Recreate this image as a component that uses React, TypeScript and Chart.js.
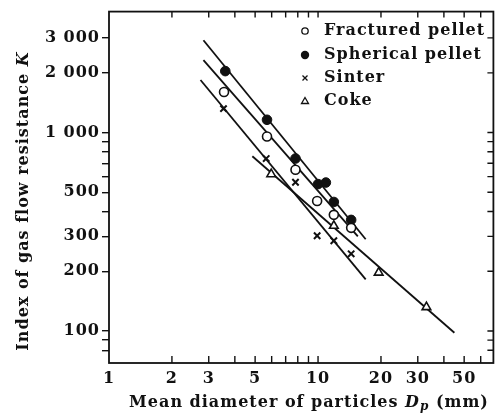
import React, { useEffect, useRef } from 'react';
import { Chart, registerables } from 'chart.js';

Chart.register(...registerables);

// ---- data ----
const fracturedX = [3.55, 5.7, 7.8, 9.9, 11.9, 14.4];
const fracturedY = [1600, 955, 650, 452, 385, 331];
const sphericalX = [3.6, 5.7, 7.8, 10.0, 10.9, 11.9, 14.4];
const sphericalY = [2040, 1160, 740, 550, 560, 447, 363];
const sinterX = [3.53, 5.65, 7.8, 9.9, 11.9, 14.4];
const sinterY = [1320, 740, 562, 302, 285, 245];
const cokeX = [5.97, 11.9, 19.5, 33];
const cokeY = [617, 339, 197, 132];

// fitted lines (end points)
const fracturedLineX = [2.83, 15.5];
const fracturedLineY = [2320, 300];
const sphericalLineX = [2.83, 16.9];
const sphericalLineY = [2920, 290];
const sinterLineX = [2.74, 16.9];
const sinterLineY = [1840, 182];
const cokeLineX = [4.85, 44.9];
const cokeLineY = [760, 98];

const seriesNames = ['Fractured pellet', 'Spherical pellet', 'Sinter', 'Coke'];

const xTickValues = [1, 2, 3, 4, 5, 6, 7, 8, 9, 10, 20, 30, 40, 50, 60];
const xTickLabelValues = [1, 2, 3, 5, 10, 20, 30, 50];
const xTickLabels = ['1', '2', '3', '5', '10', '20', '30', '50'];
const yTickValues = [80, 90, 100, 200, 300, 400, 500, 600, 700, 800, 900, 1000, 2000, 3000];
const yTickLabelValues = [100, 200, 300, 500, 1000, 2000, 3000];
const yTickLabels = ['100', '200', '300', '500', '1 000', '2 000', '3 000'];

const xTitleParts = [
  { t: 'Mean diameter of particles ', s: 'n' },
  { t: 'D', s: 'i' },
  { t: 'p', s: 'sub' },
  { t: ' (mm)', s: 'n' },
];
const yTitleParts = [
  { t: 'Index of gas flow resistance ', s: 'n' },
  { t: 'K', s: 'i' },
];

const FONT = '"DejaVu Serif", serif';
const INK = '#111';
const SPACING = '1px';

const pts = (xs: number[], ys: number[]) => xs.map((x, i) => ({ x, y: ys[i] }));

function fontFor(style: string, size: number) {
  if (style === 'i') return `italic bold ${size}px ${FONT}`;
  if (style === 'sub') return `italic bold ${Math.round(size * 0.72)}px ${FONT}`;
  return `bold ${size}px ${FONT}`;
}

function drawParts(ctx: CanvasRenderingContext2D, parts: { t: string; s: string }[], cx: number, cy: number, size: number) {
  let total = 0;
  const widths = parts.map((p) => {
    ctx.font = fontFor(p.s, size);
    const w = ctx.measureText(p.t).width;
    total += w;
    return w;
  });
  let x = cx - total / 2;
  parts.forEach((p, i) => {
    ctx.font = fontFor(p.s, size);
    ctx.fillText(p.t, x, p.s === 'sub' ? cy + 4 : cy);
    x += widths[i];
  });
}

const decorPlugin = {
  id: 'decor',
  beforeDraw(chart: any) {
    (chart.ctx as any).letterSpacing = SPACING;
  },
  afterDraw(chart: any) {
    const ctx: CanvasRenderingContext2D = chart.ctx;
    const { left, right, top, bottom } = chart.chartArea;
    const xs = chart.scales.x;
    const ys = chart.scales.y;
    ctx.save();
    (ctx as any).letterSpacing = SPACING;
    ctx.strokeStyle = INK;
    ctx.lineWidth = 1.8;
    ctx.strokeRect(left, top, right - left, bottom - top);
    ctx.lineWidth = 1.4;
    ctx.beginPath();
    xTickValues.forEach((v) => {
      const px = xs.getPixelForValue(v);
      if (px <= left + 1 || px >= right - 1) return;
      ctx.moveTo(px, bottom);
      ctx.lineTo(px, bottom - 7);
      ctx.moveTo(px, top);
      ctx.lineTo(px, top + 6);
    });
    yTickValues.forEach((v) => {
      const py = ys.getPixelForValue(v);
      if (py <= top + 1 || py >= bottom - 1) return;
      ctx.moveTo(right, py);
      ctx.lineTo(right - 6, py);
    });
    ctx.stroke();

    // legend
    const lx = 305;
    const tx = 324;
    const rows = [31, 55, 78, 101];
    ctx.fillStyle = INK;
    ctx.textBaseline = 'middle';
    ctx.textAlign = 'left';
    ctx.font = `bold 16px ${FONT}`;
    seriesNames.forEach((n, i) => ctx.fillText(n, tx, rows[i]));
    ctx.lineWidth = 1.3;
    // open circle
    ctx.beginPath();
    ctx.arc(lx, rows[0], 3.2, 0, Math.PI * 2);
    ctx.stroke();
    // filled circle
    ctx.beginPath();
    ctx.arc(lx, rows[1], 4.2, 0, Math.PI * 2);
    ctx.fill();
    // cross
    ctx.beginPath();
    ctx.moveTo(lx - 2.5, rows[2] - 2.5);
    ctx.lineTo(lx + 2.5, rows[2] + 2.5);
    ctx.moveTo(lx + 2.5, rows[2] - 2.5);
    ctx.lineTo(lx - 2.5, rows[2] + 2.5);
    ctx.stroke();
    // triangle
    ctx.beginPath();
    ctx.moveTo(lx, rows[3] - 3.5);
    ctx.lineTo(lx + 3.5, rows[3] + 2.5);
    ctx.lineTo(lx - 3.5, rows[3] + 2.5);
    ctx.closePath();
    ctx.stroke();

    // axis titles
    ctx.textAlign = 'left';
    ctx.textBaseline = 'middle';
    drawParts(ctx, xTitleParts, 309, 403, 16);
    ctx.save();
    ctx.translate(24, 201);
    ctx.rotate(-Math.PI / 2);
    drawParts(ctx, yTitleParts, 0, 0, 16);
    ctx.restore();
    ctx.restore();
  },
};

export default function App() {
  const ref = useRef<HTMLCanvasElement | null>(null);
  useEffect(() => {
    document.body.style.margin = '0';
    const canvas = ref.current!;
    const lineDs = (label: string, xs: number[], ys: number[]) => ({
      type: 'scatter' as const,
      label,
      data: pts(xs, ys),
      showLine: true,
      borderColor: INK,
      borderWidth: 1.8,
      pointRadius: 0,
      fill: false,
    });
    const chart = new Chart(canvas, {
      type: 'scatter',
      data: {
        datasets: [
          {
            label: seriesNames[0],
            data: pts(fracturedX, fracturedY),
            pointStyle: 'circle',
            pointRadius: 4.5,
            pointBorderWidth: 1.6,
            pointBackgroundColor: '#fff',
            pointBorderColor: INK,
          },
          {
            label: seriesNames[1],
            data: pts(sphericalX, sphericalY),
            pointStyle: 'circle',
            pointRadius: 4.8,
            pointBorderWidth: 1,
            pointBackgroundColor: INK,
            pointBorderColor: INK,
          },
          {
            label: seriesNames[2],
            data: pts(sinterX, sinterY),
            pointStyle: 'crossRot',
            pointRadius: 4.5,
            pointBorderWidth: 2,
            pointBorderColor: INK,
          },
          {
            label: seriesNames[3],
            data: pts(cokeX, cokeY),
            pointStyle: 'triangle',
            pointRadius: 5,
            pointBorderWidth: 1.6,
            pointBackgroundColor: '#fff',
            pointBorderColor: INK,
          },
          lineDs('fractured fit', fracturedLineX, fracturedLineY),
          lineDs('spherical fit', sphericalLineX, sphericalLineY),
          lineDs('sinter fit', sinterLineX, sinterLineY),
          lineDs('coke fit', cokeLineX, cokeLineY),
        ] as any,
      },
      options: {
        responsive: false,
        animation: false,
        devicePixelRatio: 1,
        layout: { padding: { left: 0, right: 4, top: 9, bottom: 0 } },
        plugins: { legend: { display: false }, tooltip: { enabled: false }, title: { display: false } },
        scales: {
          x: {
            type: 'logarithmic',
            min: 1,
            max: 69,
            afterFit: (s: any) => {
              s.height = 51;
            },
            afterBuildTicks: (s: any) => {
              s.ticks = xTickValues.map((v) => ({ value: v }));
            },
            grid: { display: false, drawTicks: false },
            border: { display: false },
            ticks: {
              autoSkip: false,
              maxRotation: 0,
              padding: 6,
              color: INK,
              font: { family: FONT, size: 16, weight: 'bold' },
              callback: (v: any) => {
                const i = xTickLabelValues.indexOf(Number(v));
                return i >= 0 ? xTickLabels[i] : '';
              },
            },
          },
          y: {
            type: 'logarithmic',
            min: 69,
            max: 4070,
            afterFit: (s: any) => {
              s.width = 109;
            },
            afterBuildTicks: (s: any) => {
              s.ticks = yTickValues.map((v) => ({ value: v }));
            },
            grid: { display: true, drawOnChartArea: false, drawTicks: true, tickLength: 7, color: INK, lineWidth: 1.4 },
            border: { display: false },
            ticks: {
              autoSkip: false,
              padding: 2,
              color: INK,
              font: { family: FONT, size: 16, weight: 'bold' },
              callback: (v: any) => {
                const i = yTickLabelValues.indexOf(Number(v));
                return i >= 0 ? yTickLabels[i] : '';
              },
            },
          },
        },
      },
      plugins: [decorPlugin],
    } as any);
    return () => chart.destroy();
  }, []);
  return <canvas ref={ref} width={500} height={414} style={{ display: 'block', width: 500, height: 414 }} />;
}
